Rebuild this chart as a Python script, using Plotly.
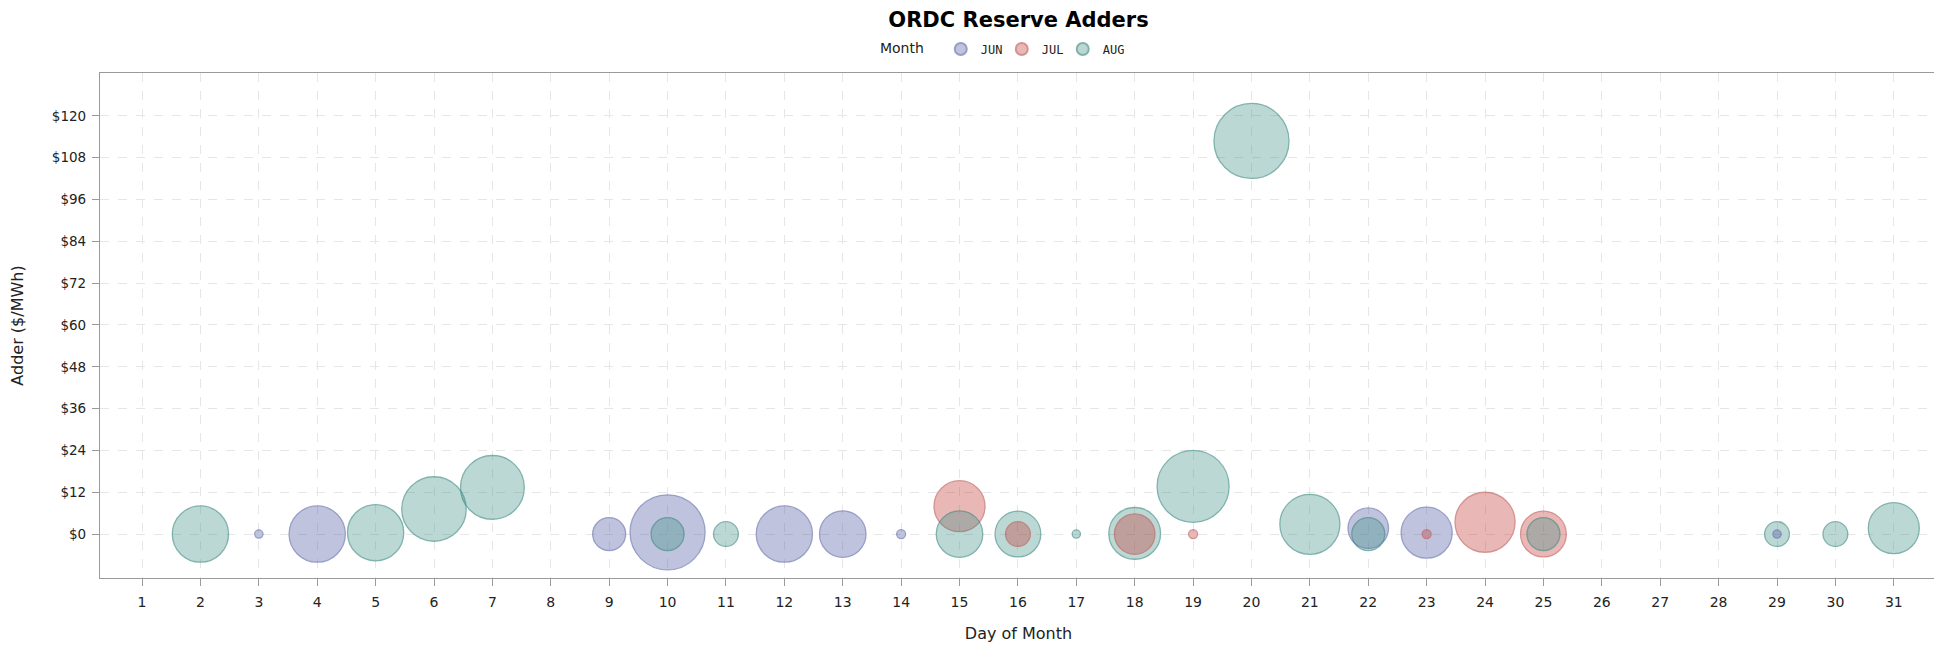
import plotly.graph_objects as go

# ---- data ----
months = ["JUN", "JUL", "AUG"]

jun_day = [3, 4, 9, 10, 12, 13, 14, 22, 23, 29]
jun_adder = [0, 0, 0, 0.5, 0, 0, 0, 1.7, 0.4, 0]
jun_weight = [1.1, 7.5, 4.4, 10.0, 7.5, 6.2, 1.2, 5.4, 6.8, 1.1]

jul_day = [15, 16, 18, 19, 23, 24, 25]
jul_adder = [8.0, 0, 0, 0, 0, 3.4, 0]
jul_weight = [6.8, 3.3, 5.4, 1.2, 1.2, 8.0, 6.1]

aug_day = [2, 5, 6, 7, 10, 11, 15, 16, 17, 18, 19, 20, 21, 22, 25, 29, 30, 31]
aug_adder = [0, 0.4, 7.2, 13.4, 0, 0, 0, 0, 0, 0.2, 13.7, 112.8, 2.8, 0, 0, 0, 0, 1.7]
aug_weight = [7.5, 7.5, 8.6, 8.5, 4.4, 3.3, 6.2, 6.1, 1.1, 6.9, 9.6, 10.0, 8.0, 4.4, 4.4, 3.3, 3.3, 6.8]

x_ticks = list(range(1, 32))
y_ticks = list(range(0, 121, 12))
y_ticktext = [f"${v}" for v in y_ticks]

# ---- styles ----
fill = {"JUN": "rgba(75,87,159,0.5)", "JUL": "rgba(193,53,49,0.5)", "AUG": "rgba(65,145,137,0.5)"}
edge = {"JUN": "rgba(98,108,170,0.9)", "JUL": "rgba(190,90,88,0.9)", "AUG": "rgba(60,138,128,0.9)"}
PX_PER_UNIT = 7.5  # bubble diameter pixels per weight unit

series = {
    "JUN": (jun_day, jun_adder, jun_weight),
    "JUL": (jul_day, jul_adder, jul_weight),
    "AUG": (aug_day, aug_adder, aug_weight),
}

# draw larger bubbles first so the small ones stay visible (SAS-like)
points = []
for m in months:
    d, a, w = series[m]
    for i in range(len(d)):
        points.append((w[i], m, d[i], a[i]))
points.sort(key=lambda p: -p[0])

fig = go.Figure()
shown = set()
for w, m, d, a in points:
    fig.add_trace(go.Scatter(
        x=[d], y=[a], mode="markers", name=m, legendgroup=m,
        showlegend=m not in shown, legendrank=months.index(m) + 1,
        marker=dict(size=[w], sizemode="diameter", sizeref=1 / PX_PER_UNIT,
                    color=fill[m], line=dict(color=edge[m], width=1.3)),
        hovertemplate=f"{m} day %{{x}}: $%{{y}}<extra></extra>",
    ))
    shown.add(m)

axis_common = dict(
    showline=True, linecolor="#9a9a9a", linewidth=1.2, mirror=True,
    ticks="outside", ticklen=7, tickcolor="#9a9a9a", tickwidth=1,
    showgrid=True, gridcolor="#e6e6e6", griddash="dash", gridwidth=1,
    zeroline=False, automargin=True,
)

fig.update_layout(
    width=1934, height=641,
    paper_bgcolor="white", plot_bgcolor="white",
    margin=dict(l=92, r=5, t=65, b=71, autoexpand=False),
    title=dict(text="<b>ORDC Reserve Adders</b>", xref="paper", x=0.5, xanchor="center",
               yref="container", y=1 - 4 / 641, yanchor="top", pad=dict(t=0, b=0),
               font=dict(family="DejaVu Sans", size=21, color="#000")),
    xaxis=dict(axis_common, range=[0.28, 31.74], tickvals=x_ticks, ticklabelstandoff=4,
               tickfont=dict(family="DejaVu Sans", size=14, color="#222"),
               title=dict(text="Day of Month", standoff=18,
                          font=dict(family="DejaVu Sans", size=16, color="#222"))),
    yaxis=dict(axis_common, range=[-12.6, 132.3], tickvals=y_ticks, ticktext=y_ticktext,
               ticklabelstandoff=3,
               tickfont=dict(family="DejaVu Sans", size=13.5, color="#222"),
               title=dict(text="Adder ($/MWh)", standoff=34,
                          font=dict(family="DejaVu Sans", size=16, color="#222"))),
    legend=dict(orientation="h", x=0.4235, xanchor="left", y=1.0475, yanchor="middle",
                itemsizing="constant", entrywidth=16, entrywidthmode="pixels",
                title=dict(text="Month\u00a0\u00a0", font=dict(family="DejaVu Sans", size=14, color="#222")),
                font=dict(family="DejaVu Sans Mono", size=12, color="#222"),
                bgcolor="rgba(0,0,0,0)"),
    showlegend=True,
)

fig.write_html("out.html")
